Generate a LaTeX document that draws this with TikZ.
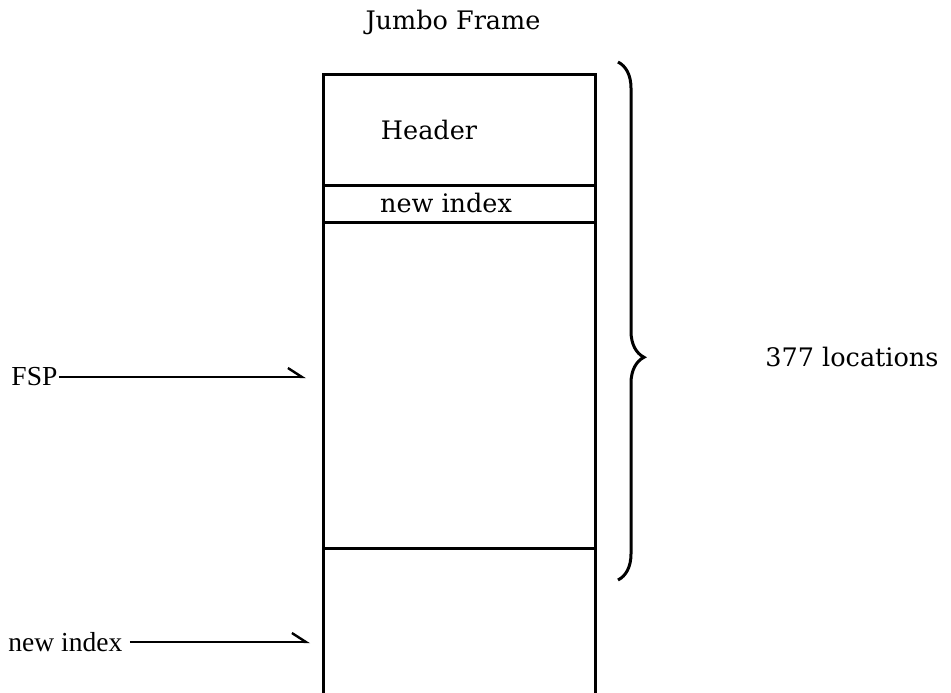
\documentclass[tikz,border=0pt]{standalone}
\usepackage{fontspec}
\setmainfont{DejaVu Serif}
\newfontfamily\sidefont{Liberation Serif}
\usetikzlibrary{arrows.meta,decorations.pathreplacing}

\begin{document}
\begin{tikzpicture}[x=1pt,y=-1pt,line width=3pt,
  lbl/.style={font=\fontsize{25.5}{28}\selectfont,inner sep=0pt},
  side/.style={font=\sidefont\fontsize{27.5}{30}\selectfont,inner sep=0pt,anchor=west},
  ptr/.style={line width=2.4pt,-{Straight Barb[harpoon,length=14pt,width=18pt]}}]
\useasboundingbox (0,0) rectangle (951,693);

% the frame
\draw (323,693) -- (323,75) -- (595,75) -- (595,693);
\draw (323,185) -- (595,185);
\draw (323,222) -- (595,222);
\draw (323,548) -- (595,548);

\node[lbl] (title) at (453,22) {Jumbo Frame};
\node[lbl] (header) at (429,130) {Header};
\node[lbl] (newidx) at (446,203) {new index};

% brace
\coordinate (btop) at (618,62);
\coordinate (bbot) at (618,580);
\draw[decorate,decoration={brace,amplitude=26pt,aspect=0.57}] (btop) -- (bbot);
\node[lbl] (locs) at (852,357) {377 locations};

% pointers
\node[side] (fsp) at (10,377) {FSP};
\coordinate (fspend) at (306,377);
\draw[ptr] (fsp) -- (fspend);

\node[side] (ni) at (7,642) {new index};
\coordinate (niend) at (310,642);
\draw[ptr] ([xshift=6pt]ni.east) -- (niend);
\end{tikzpicture}
\end{document}
